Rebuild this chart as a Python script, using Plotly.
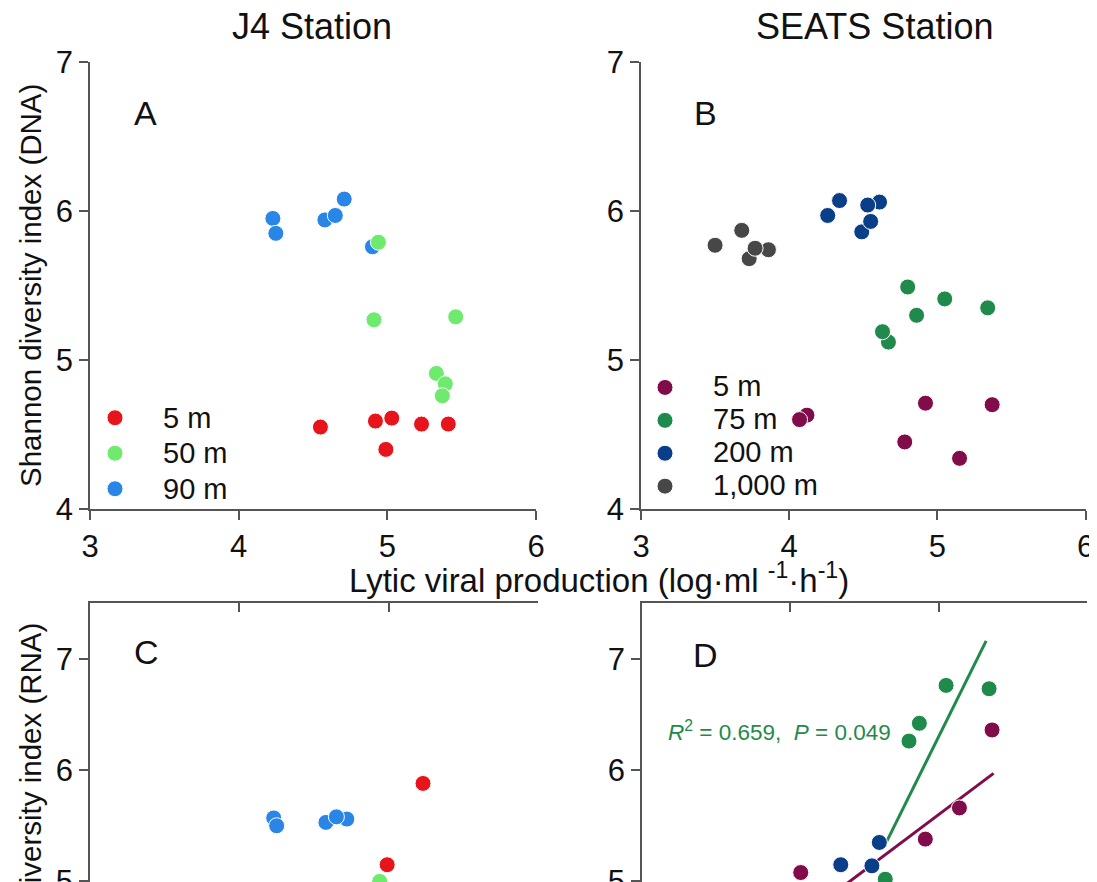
import plotly.graph_objects as go

# The page body adds an 8 px margin, so the figure is 8 px smaller than the window
OFF = 8
W, H = 1097 - OFF, 882 - OFF

# ---------------- data ----------------
# Panel A: J4 station, DNA
a_5m_x = [4.55, 4.92, 5.03, 4.99, 5.23, 5.41]
a_5m_y = [4.55, 4.59, 4.61, 4.40, 4.57, 4.57]
a_50m_x = [4.94, 4.91, 5.46, 5.33, 5.39, 5.37]
a_50m_y = [5.79, 5.27, 5.29, 4.91, 4.84, 4.76]
a_90m_x = [4.23, 4.25, 4.58, 4.65, 4.71, 4.90]
a_90m_y = [5.95, 5.85, 5.94, 5.97, 6.08, 5.76]

# Panel B: SEATS station, DNA
b_5m_x = [4.12, 4.07, 4.78, 4.92, 5.15, 5.37]
b_5m_y = [4.63, 4.60, 4.45, 4.71, 4.34, 4.70]
b_75m_x = [4.80, 5.05, 4.86, 5.34, 4.67, 4.63]
b_75m_y = [5.49, 5.41, 5.30, 5.35, 5.12, 5.19]
b_200m_x = [4.26, 4.34, 4.61, 4.53, 4.49, 4.55]
b_200m_y = [5.97, 6.07, 6.06, 6.04, 5.86, 5.93]
b_1000m_x = [3.50, 3.68, 3.73, 3.86, 3.77]
b_1000m_y = [5.77, 5.87, 5.68, 5.74, 5.75]

# Panel C: J4 station, RNA
c_5m_x = [5.23, 4.99]
c_5m_y = [5.88, 5.15]
c_50m_x = [4.94]
c_50m_y = [5.00]
c_90m_x = [4.23, 4.25, 4.58, 4.72, 4.65]
c_90m_y = [5.57, 5.50, 5.53, 5.56, 5.58]

# Panel D: SEATS station, RNA
d_5m_x = [4.07, 4.91, 5.14, 5.36]
d_5m_y = [5.08, 5.38, 5.66, 6.36]
d_75m_x = [4.64, 4.80, 4.87, 5.05, 5.34]
d_75m_y = [5.02, 6.26, 6.42, 6.76, 6.73]
d_200m_x = [4.34, 4.55, 4.60]
d_200m_y = [5.15, 5.14, 5.35]
d_fit5_x = [4.07, 5.37]
d_fit5_y = [4.67, 5.97]
d_fit75_x = [4.65, 5.32]
d_fit75_y = [5.36, 7.16]

x_ticks = [3, 4, 5, 6]
y_ticks_dna = [4, 5, 6, 7]
y_ticks_rna = [4, 5, 6, 7]

# ---------------- styles ----------------
RED, LGREEN, BLUE = "#e8141c", "#6eea6e", "#2a86e6"
MAROON, GREEN, NAVY, GREY = "#800c4a", "#1f8a4c", "#0b3e88", "#474747"
FONT = "Liberation Sans, Arial, sans-serif"
AX = "#555555"
MS = 16


def px_x(p):
    return (p - OFF) / W


def px_y(p):
    return 1 - (p - OFF) / H


fig = go.Figure()


def pts(x, y, color, name, xa, ya, legend=None, rank=None):
    label = '<span style="font-size:29px">%s</span>' % name
    fig.add_trace(go.Scatter(
        x=x, y=y, mode="markers", name=label, xaxis=xa, yaxis=ya,
        marker=dict(size=MS, color=color, line=dict(color="white", width=1)),
        showlegend=legend is not None, legend=legend or "legend",
        legendrank=rank if rank else 1000, hoverinfo="skip"))


# A
pts(a_90m_x, a_90m_y, BLUE, "90 m", "x", "y", "legend", 3)
pts(a_50m_x, a_50m_y, LGREEN, "50 m", "x", "y", "legend", 2)
pts(a_5m_x, a_5m_y, RED, "5 m", "x", "y", "legend", 1)
# B
pts(b_1000m_x, b_1000m_y, GREY, "1,000 m", "x2", "y2", "legend2", 4)
pts(b_200m_x, b_200m_y, NAVY, "200 m", "x2", "y2", "legend2", 3)
pts(b_75m_x, b_75m_y, GREEN, "75 m", "x2", "y2", "legend2", 2)
pts(b_5m_x, b_5m_y, MAROON, "5 m", "x2", "y2", "legend2", 1)
# C
pts(c_90m_x, c_90m_y, BLUE, "90 m", "x3", "y3")
pts(c_50m_x, c_50m_y, LGREEN, "50 m", "x3", "y3")
pts(c_5m_x, c_5m_y, RED, "5 m", "x3", "y3")
# D
fig.add_trace(go.Scatter(x=d_fit5_x, y=d_fit5_y, mode="lines", xaxis="x4", yaxis="y4",
                         line=dict(color=MAROON, width=3), showlegend=False, hoverinfo="skip"))
fig.add_trace(go.Scatter(x=d_fit75_x, y=d_fit75_y, mode="lines", xaxis="x4", yaxis="y4",
                         line=dict(color=GREEN, width=3), showlegend=False, hoverinfo="skip"))
pts(d_200m_x, d_200m_y, NAVY, "200 m", "x4", "y4")
pts(d_75m_x, d_75m_y, GREEN, "75 m", "x4", "y4")
pts(d_5m_x, d_5m_y, MAROON, "5 m", "x4", "y4")

tickfont = dict(family=FONT, size=31, color="#111")
base = dict(showgrid=False, zeroline=False, showline=True, linecolor=AX, linewidth=1.5,
            tickcolor=AX, tickwidth=1.5, ticklen=9, tickfont=tickfont, tickmode="array",
            automargin=False, ticklabeloverflow="allow")

dom_ax = [px_x(90), px_x(536)]
dom_bx = [px_x(641), px_x(1085.5)]
dom_cx = [px_x(90), px_x(538)]
dom_dx = [px_x(642), px_x(1087)]
dom_top = [px_y(509), px_y(62)]
dom_bot = [0, px_y(603)]
rng_dna = [4, 7]
rng_rna = [4.995, 7.5]

lay = {}
# main axes
lay["xaxis"] = dict(base, domain=dom_ax, range=[3, 6], tickvals=x_ticks, ticks="outside", anchor="y")
lay["yaxis"] = dict(base, domain=dom_top, range=rng_dna, tickvals=y_ticks_dna, ticks="outside", anchor="x")
lay["xaxis2"] = dict(base, domain=dom_bx, range=[3, 6], tickvals=x_ticks, ticks="outside", anchor="y2")
lay["yaxis2"] = dict(base, domain=dom_top, range=rng_dna, tickvals=y_ticks_dna, ticks="outside", anchor="x2")
lay["xaxis3"] = dict(base, domain=dom_cx, range=[3, 6], tickvals=x_ticks, ticks="inside", side="top",
                     showticklabels=False, anchor="y3")
lay["yaxis3"] = dict(base, domain=dom_bot, range=rng_rna, tickvals=y_ticks_rna, ticks="outside", anchor="x3")
lay["xaxis4"] = dict(base, domain=dom_dx, range=[3, 6], tickvals=x_ticks, ticks="inside", side="top",
                     showticklabels=False, anchor="y4")
lay["yaxis4"] = dict(base, domain=dom_bot, range=rng_rna, tickvals=y_ticks_rna, ticks="outside", anchor="x4")
# mirror axes (top for A/B, right for all) with inward ticks
lay["xaxis5"] = dict(base, overlaying="x", range=[3, 6], tickvals=x_ticks, ticks="inside", side="top",
                     showticklabels=False, anchor="y")
lay["xaxis6"] = dict(base, overlaying="x2", range=[3, 6], tickvals=x_ticks, ticks="inside", side="top",
                     showticklabels=False, anchor="y2")
lay["yaxis5"] = dict(base, overlaying="y", range=rng_dna, tickvals=y_ticks_dna, ticks="inside", side="right",
                     showticklabels=False, anchor="x")
lay["yaxis6"] = dict(base, overlaying="y2", range=rng_dna, tickvals=y_ticks_dna, ticks="inside", side="right",
                     showticklabels=False, anchor="x2")
lay["yaxis7"] = dict(base, overlaying="y3", range=rng_rna, tickvals=y_ticks_rna, ticks="inside", side="right",
                     showticklabels=False, anchor="x3")
lay["yaxis8"] = dict(base, overlaying="y4", range=rng_rna, tickvals=y_ticks_rna, ticks="inside", side="right",
                     showticklabels=False, anchor="x4")

lay["legend"] = dict(x=px_x(67), y=px_y(395), xanchor="left", yanchor="top",
                     font=dict(family=FONT, size=25, color="#111"),
                     bgcolor="rgba(0,0,0,0)", itemwidth=86, tracegroupgap=0, traceorder="normal")
lay["legend2"] = dict(x=px_x(617), y=px_y(366), xanchor="left", yanchor="top",
                      font=dict(family=FONT, size=23, color="#111"),
                      bgcolor="rgba(0,0,0,0)", itemwidth=86, tracegroupgap=0, traceorder="normal")

fig.update_layout(**lay)

ann = []


def txt(x, y, text, size, **kw):
    d = dict(x=px_x(x), y=px_y(y), xref="paper", yref="paper", text=text, showarrow=False,
             xanchor="center", yanchor="middle",
             font=dict(family=FONT, size=size, color=kw.pop("color", "#111")))
    d.update(kw)
    ann.append(d)


txt(312, 26, "J4 Station", 36)
txt(874, 26, "SEATS Station", 36)
txt(145, 113, "A", 34)
txt(705, 113, "B", 34)
txt(146, 652, "C", 34)
txt(705, 655, "D", 34)
txt(599, 578, "Lytic viral production (log·ml <sup>-1</sup>·h<sup>-1</sup>)", 33)
txt(30, 286, "Shannon diversity index (DNA)", 29.5, textangle=-90)
txt(30, 825, "Shannon diversity index (RNA)", 29.5, textangle=-90)
txt(779, 731, "<i>R</i><sup>2</sup> = 0.659,  <i>P</i> = 0.049", 22.5, color=GREEN)

fig.update_layout(
    annotations=ann,
    width=W, height=H,
    margin=dict(l=0, r=0, t=0, b=0),
    paper_bgcolor="white", plot_bgcolor="white",
    font=dict(family=FONT),
)

fig.write_html("out.html")
